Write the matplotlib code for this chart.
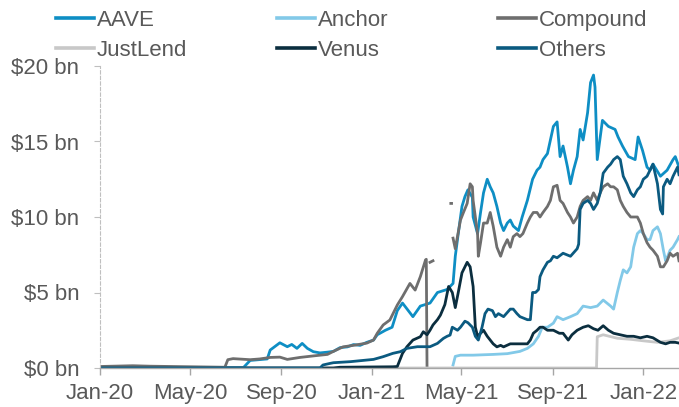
import matplotlib
matplotlib.use("Agg")
import matplotlib.pyplot as plt
import pandas as pd

NaN = float("nan")

# ---------------- data ----------------
aave_dates = ["2020-01-01", "2020-07-12", "2020-07-21", "2020-08-13", "2020-08-17", "2020-08-30",
              "2020-09-09", "2020-09-15", "2020-09-22", "2020-09-29", "2020-10-06", "2020-10-14",
              "2020-10-23", "2020-11-02", "2020-11-10", "2020-11-19", "2020-11-29", "2020-12-07",
              "2020-12-16", "2020-12-25", "2021-01-03", "2021-01-08", "2021-01-19", "2021-01-28",
              "2021-02-04", "2021-02-11", "2021-02-25", "2021-03-07", "2021-03-20", "2021-03-30",
              "2021-04-12", "2021-04-20", "2021-04-23", "2021-04-27", "2021-05-02", "2021-05-06",
              "2021-05-10", "2021-05-16", "2021-05-17", "2021-05-23", "2021-05-27", "2021-05-31",
              "2021-06-05", "2021-06-09", "2021-06-13", "2021-06-18", "2021-06-23", "2021-06-27",
              "2021-07-02", "2021-07-06", "2021-07-10", "2021-07-17", "2021-07-22", "2021-07-29",
              "2021-08-05", "2021-08-11", "2021-08-15", "2021-08-19", "2021-08-25", "2021-08-29",
              "2021-09-02", "2021-09-07", "2021-09-11", "2021-09-15", "2021-09-21", "2021-09-25",
              "2021-09-29", "2021-10-04", "2021-10-08", "2021-10-12", "2021-10-18", "2021-10-22",
              "2021-10-26", "2021-10-28", "2021-10-31", "2021-11-07", "2021-11-15", "2021-11-24",
              "2021-11-28", "2021-12-04", "2021-12-12", "2021-12-21", "2021-12-25", "2021-12-31",
              "2022-01-06", "2022-01-10", "2022-01-14", "2022-01-24", "2022-02-02", "2022-02-10",
              "2022-02-13", "2022-02-18"]
aave_values = [0.02, 0.03, 0.5, 0.6, 1.19, 1.67,
               1.41, 1.56, 1.3, 1.63, 1.3, 1.08,
               1.0, 1.05, 1.1, 1.35, 1.4, 1.55,
               1.5, 1.7, 1.85, 2.2, 2.5, 2.7,
               3.8, 4.3, 3.4, 4.1, 4.3, 5.0,
               5.2, 5.6, 7.4, 8.9, 10.7, 11.35,
               11.8, 11.3, 10.0, 8.9, 10.3, 11.6,
               12.5, 12.0, 11.6, 10.7, 9.6, 9.1,
               9.6, 9.8, 9.4, 9.1, 10.0, 11.1,
               12.5, 13.1, 13.3, 13.8, 14.2, 15.1,
               16.0, 16.3, 14.0, 14.7, 13.3, 12.2,
               13.1, 14.0, 15.8, 15.1, 16.9, 18.9,
               19.4, 18.6, 13.8, 16.4, 16.0, 15.8,
               15.3, 14.7, 14.0, 13.8, 15.3, 14.4,
               13.3, 13.1, 13.5, 12.7, 13.1, 13.8,
               14.0, 13.3]

anchor_dates = ["2021-04-20", "2021-04-23", "2021-04-30", "2021-05-17", "2021-06-13", "2021-07-02",
                "2021-07-19", "2021-07-29", "2021-08-06", "2021-08-13", "2021-08-18", "2021-08-25",
                "2021-09-02", "2021-09-07", "2021-09-15", "2021-09-25", "2021-10-04", "2021-10-12",
                "2021-10-22", "2021-10-31", "2021-11-08", "2021-11-18", "2021-11-22", "2021-11-27",
                "2021-12-01", "2021-12-05", "2021-12-10", "2021-12-15", "2021-12-19", "2021-12-24",
                "2021-12-28", "2022-01-01", "2022-01-06", "2022-01-10", "2022-01-14", "2022-01-20",
                "2022-01-24", "2022-01-28", "2022-01-31", "2022-02-02", "2022-02-06", "2022-02-10",
                "2022-02-16", "2022-02-18"]
anchor_values = [0.2, 0.77, 0.85, 0.85, 0.9, 0.95,
                 1.1, 1.3, 1.6, 2.1, 2.7, 2.7,
                 2.97, 3.4, 3.2, 3.4, 3.6, 4.1,
                 4.0, 4.1, 4.5, 4.1, 3.9, 5.0,
                 5.8, 6.5, 6.3, 6.7, 8.0, 8.9,
                 9.1, 8.9, 8.5, 8.5, 9.1, 9.35,
                 8.9, 7.8, 7.1, 7.3, 7.8, 8.0,
                 8.5, 8.7]

compound_dates = ["2020-01-01", "2020-02-14", "2020-03-08", "2020-06-17", "2020-06-21", "2020-06-28",
                  "2020-07-21", "2020-08-03", "2020-08-17", "2020-08-30", "2020-09-09", "2020-09-26",
                  "2020-10-14", "2020-11-02", "2020-11-10", "2020-11-23", "2020-12-07", "2020-12-25",
                  "2021-01-03", "2021-01-08", "2021-01-16", "2021-01-25", "2021-02-04", "2021-02-11",
                  "2021-02-21", "2021-02-28", "2021-03-07", "2021-03-14", "2021-03-15", "2021-03-16",
                  "2021-03-18", "2021-03-20", "2021-03-24", "2021-03-27", "2021-04-17", "2021-04-18",
                  "2021-04-19", "2021-04-20", "2021-04-23", "2021-04-30", "2021-05-04", "2021-05-09",
                  "2021-05-13", "2021-05-16", "2021-05-17", "2021-05-23", "2021-05-24", "2021-05-27",
                  "2021-05-31", "2021-06-05", "2021-06-09", "2021-06-13", "2021-06-18", "2021-06-23",
                  "2021-06-27", "2021-07-02", "2021-07-06", "2021-07-10", "2021-07-15", "2021-07-19",
                  "2021-07-23", "2021-07-29", "2021-08-02", "2021-08-06", "2021-08-11", "2021-08-15",
                  "2021-08-19", "2021-08-25", "2021-08-29", "2021-09-02", "2021-09-07", "2021-09-11",
                  "2021-09-15", "2021-09-21", "2021-09-25", "2021-09-29", "2021-10-04", "2021-10-08",
                  "2021-10-12", "2021-10-18", "2021-10-22", "2021-10-26", "2021-10-31", "2021-11-04",
                  "2021-11-08", "2021-11-14", "2021-11-18", "2021-11-22", "2021-11-27", "2021-12-01",
                  "2021-12-05", "2021-12-10", "2021-12-15", "2021-12-24", "2021-12-28", "2022-01-01",
                  "2022-01-06", "2022-01-10", "2022-01-14", "2022-01-20", "2022-01-24", "2022-01-28",
                  "2022-02-02", "2022-02-06", "2022-02-10", "2022-02-16", "2022-02-18"]
compound_values = [0.1, 0.15, 0.12, 0.05, 0.55, 0.62,
                   0.55, 0.6, 0.7, 0.72, 0.57, 0.7,
                   0.8, 0.9, 1.1, 1.4, 1.5, 1.65,
                   1.85, 2.3, 2.85, 3.18, 4.17, 4.73,
                   5.6, 5.16, 6.05, 7.16, 7.2, 0.0,
                   NaN, 7.0, 7.1, NaN, 10.9, 10.9,
                   NaN, 8.6, 7.9, 9.8, 10.3, 10.9,
                   12.2, 12.0, 11.1, 8.9, 7.4, 8.3,
                   9.6, 9.6, 10.3, 9.4, 8.0, 7.4,
                   8.0, 8.5, 8.0, 8.7, 8.9, 8.7,
                   8.9, 9.6, 10.0, 10.3, 10.3, 10.0,
                   10.3, 10.7, 11.1, 12.0, 12.1, 11.1,
                   10.9, 10.3, 10.0, 9.6, 10.0, 10.7,
                   11.1, 11.35, 11.1, 11.6, 11.1, 11.6,
                   12.0, 12.2, 12.0, 12.0, 11.8, 11.1,
                   10.7, 10.3, 10.0, 10.0, 9.6, 8.9,
                   8.3, 8.0, 7.8, 7.4, 6.7, 6.7,
                   7.1, 7.6, 7.4, 7.6, 7.1]

justlend_dates = ["2020-01-01", "2021-10-30", "2021-10-31", "2021-11-08", "2021-11-27", "2021-12-15",
                  "2022-01-01", "2022-01-20", "2022-02-06", "2022-02-18"]
justlend_values = [0.0, 0.0, 2.07, 2.2, 1.97, 1.9,
                   1.8, 1.7, 1.8, 2.0]

venus_dates = ["2020-01-01", "2020-11-10", "2020-11-19", "2021-01-29", "2021-02-04", "2021-02-11",
               "2021-02-17", "2021-02-25", "2021-03-07", "2021-03-11", "2021-03-16", "2021-03-20",
               "2021-03-24", "2021-03-30", "2021-04-03", "2021-04-09", "2021-04-14", "2021-04-19",
               "2021-04-23", "2021-04-27", "2021-05-02", "2021-05-09", "2021-05-13", "2021-05-17",
               "2021-05-20", "2021-05-23", "2021-05-27", "2021-05-31", "2021-06-05", "2021-06-09",
               "2021-06-13", "2021-06-18", "2021-06-23", "2021-06-27", "2021-07-06", "2021-07-19",
               "2021-07-29", "2021-08-02", "2021-08-06", "2021-08-11", "2021-08-15", "2021-08-19",
               "2021-08-25", "2021-09-02", "2021-09-10", "2021-09-15", "2021-09-22", "2021-09-27",
               "2021-10-04", "2021-10-12", "2021-10-19", "2021-10-26", "2021-11-01", "2021-11-08",
               "2021-11-15", "2021-11-22", "2021-12-01", "2021-12-10", "2021-12-19", "2021-12-28",
               "2022-01-06", "2022-01-14", "2022-01-24", "2022-01-31", "2022-02-06", "2022-02-13",
               "2022-02-18"]
venus_values = [0.0, 0.0, 0.05, 0.08, 0.1, 0.97,
                1.41, 1.85, 2.07, 2.4, 2.2, 2.5,
                2.85, 3.2, 3.5, 4.2, 5.4, 5.0,
                4.0, 5.0, 6.3, 7.0, 6.7, 5.4,
                2.7, 2.1, 2.3, 2.5, 2.1, 1.85,
                1.6, 1.4, 1.5, 1.4, 1.6, 1.6,
                1.6, 1.85, 2.3, 2.5, 2.7, 2.7,
                2.5, 2.5, 2.3, 2.3, 1.85, 2.2,
                2.5, 2.7, 2.8, 2.6, 2.5, 2.8,
                2.5, 2.3, 2.2, 2.1, 2.1, 2.0,
                2.1, 2.0, 1.7, 1.6, 1.7, 1.7,
                1.65]

others_dates = ["2020-01-01", "2020-10-23", "2020-10-27", "2020-11-06", "2020-11-10", "2020-12-03",
                "2021-01-03", "2021-01-16", "2021-01-29", "2021-02-08", "2021-02-17", "2021-03-03",
                "2021-03-20", "2021-03-30", "2021-04-07", "2021-04-12", "2021-04-16", "2021-04-19",
                "2021-04-26", "2021-04-30", "2021-05-06", "2021-05-10", "2021-05-16", "2021-05-20",
                "2021-05-24", "2021-05-29", "2021-06-02", "2021-06-06", "2021-06-12", "2021-06-16",
                "2021-06-20", "2021-06-27", "2021-07-06", "2021-07-10", "2021-07-15", "2021-07-19",
                "2021-07-29", "2021-08-02", "2021-08-05", "2021-08-09", "2021-08-13", "2021-08-15",
                "2021-08-19", "2021-08-25", "2021-08-29", "2021-09-02", "2021-09-07", "2021-09-15",
                "2021-09-25", "2021-10-04", "2021-10-06", "2021-10-08", "2021-10-12", "2021-10-18",
                "2021-10-22", "2021-10-26", "2021-10-31", "2021-11-04", "2021-11-08", "2021-11-14",
                "2021-11-18", "2021-11-22", "2021-11-27", "2021-12-01", "2021-12-05", "2021-12-10",
                "2021-12-15", "2021-12-19", "2021-12-24", "2021-12-28", "2022-01-01", "2022-01-06",
                "2022-01-10", "2022-01-14", "2022-01-20", "2022-01-24", "2022-01-27", "2022-01-28",
                "2022-02-02", "2022-02-06", "2022-02-10", "2022-02-16", "2022-02-18"]
others_values = [0.0, 0.0, 0.2, 0.31, 0.35, 0.42,
                 0.57, 0.75, 0.97, 1.08, 1.3, 1.41,
                 1.41, 1.63, 1.96, 2.1, 2.18, 2.7,
                 2.5, 2.7, 3.1, 3.0, 2.7, 2.1,
                 1.85, 2.7, 3.6, 3.9, 3.8, 3.4,
                 3.6, 3.4, 3.9, 3.9, 3.6, 3.4,
                 3.2, 3.2, 5.0, 5.0, 5.2, 6.05,
                 6.5, 7.0, 7.1, 7.4, 7.3, 7.6,
                 7.4, 7.9, 8.2, 10.5, 10.9, 11.1,
                 10.9, 10.5, 10.9, 11.6, 12.9, 13.3,
                 13.5, 13.8, 14.0, 13.8, 12.7, 12.2,
                 11.6, 11.35, 11.8, 12.0, 12.5, 12.7,
                 13.1, 13.5, 12.2, 10.5, 10.2, 12.0,
                 12.5, 12.2, 12.7, 13.3, 12.8]

y_ticks = [0, 5, 10, 15, 20]
y_tick_labels = ["$0 bn", "$5 bn", "$10 bn", "$15 bn", "$20 bn"]
x_ticks = ["2020-01-01", "2020-05-01", "2020-09-01", "2021-01-01", "2021-05-01", "2021-09-01", "2022-01-01"]
x_tick_labels = ["Jan-20", "May-20", "Sep-20", "Jan-21", "May-21", "Sep-21", "Jan-22"]
x_range = ["2020-01-01", "2022-02-18"]

# ---------------- drawing ----------------
plt.rcParams["font.family"] = ["Liberation Sans", "DejaVu Sans"]
TEXT = "#595959"

fig = plt.figure(figsize=(6.79, 4.07), dpi=100)
ax = fig.add_axes([100 / 679, 1 - 368 / 407, 579 / 679, (368 - 66) / 407])

series = [
    ("AAVE", aave_dates, aave_values, "#0E8EC4"),
    ("Anchor", anchor_dates, anchor_values, "#82C9E8"),
    ("Compound", compound_dates, compound_values, "#6E6E6E"),
    ("JustLend", justlend_dates, justlend_values, "#C8C8C8"),
    ("Venus", venus_dates, venus_values, "#0B2E3F"),
    ("Others", others_dates, others_values, "#0B5A80"),
]
handles = {}
for name, d, v, c in series:
    (h,) = ax.plot(pd.to_datetime(d), v, color=c, lw=2.0, label=name, solid_joinstyle="round")
    handles[name] = h

ax.set_ylim(0, 20)
ax.set_yticks(y_ticks)
ax.set_yticklabels([s.replace("$", r"\$") for s in y_tick_labels])
ax.set_xlim(pd.to_datetime(x_range[0]), pd.to_datetime(x_range[1]))
ax.set_xticks(pd.to_datetime(x_ticks))
ax.set_xticklabels(x_tick_labels)

for s in ["top", "right"]:
    ax.spines[s].set_visible(False)
ax.spines["left"].set_linestyle((0, (3, 2)))
ax.spines["left"].set_color("#BFBFBF")
ax.spines["left"].set_linewidth(0.8)
ax.spines["bottom"].set_color("#A6A6A6")
ax.spines["bottom"].set_linewidth(1.0)

ax.tick_params(axis="y", length=4, width=0.8, color="#BFBFBF", pad=11,
               labelsize=16, labelcolor=TEXT)
ax.tick_params(axis="x", length=5, width=1.0, color="#A6A6A6", pad=6,
               labelsize=16, labelcolor=TEXT)

cols = [("AAVE", "JustLend"), ("Anchor", "Venus"), ("Compound", "Others")]
col_x = [56, 277, 498]
for (a, b), x0 in zip(cols, col_x):
    leg = fig.legend(handles=[handles[a], handles[b]], loc="upper left",
                     bbox_to_anchor=(x0 / 679, 1 - 10 / 407), frameon=False, fontsize=16,
                     handlelength=1.7, handletextpad=0.15, borderpad=0, borderaxespad=0,
                     labelspacing=0.4, labelcolor=TEXT)
    for ln in leg.get_lines():
        ln.set_linewidth(2.6)

fig.savefig("out.png", dpi=100)
